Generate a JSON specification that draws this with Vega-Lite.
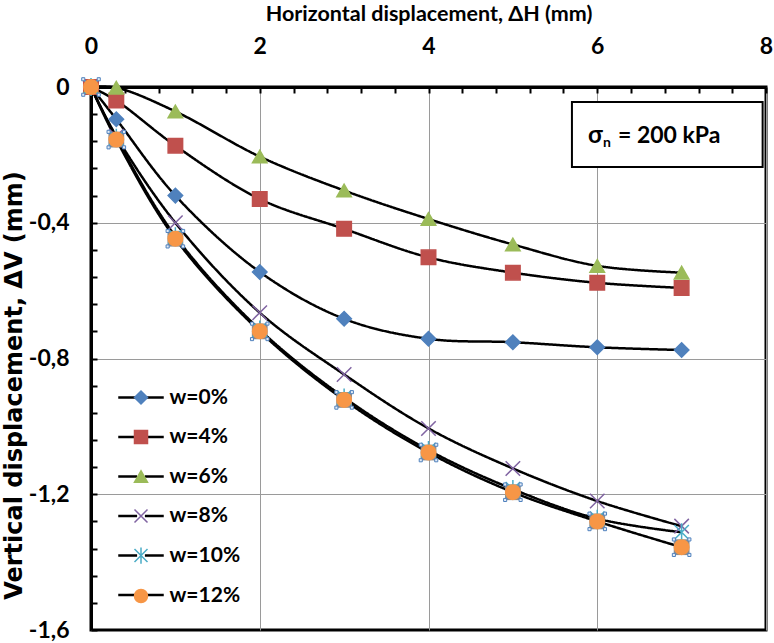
{
  "$schema": "https://vega.github.io/schema/vega-lite/v6.json",
  "width": 675,
  "height": 543,
  "autosize": {"type": "none"},
  "padding": {"left": 91, "top": 87, "right": 8, "bottom": 13},
  "background": "white",
  "config": {
    "view": {"stroke": "black", "strokeWidth": 3},
    "font": "Lato"
  },
  "datasets": {
    "curves": [
      {"series": "w=0%", "dh": 0, "dv": 0},
      {"series": "w=0%", "dh": 0.3, "dv": -0.095},
      {"series": "w=0%", "dh": 1, "dv": -0.32},
      {"series": "w=0%", "dh": 2, "dv": -0.545},
      {"series": "w=0%", "dh": 3, "dv": -0.683},
      {"series": "w=0%", "dh": 4, "dv": -0.742},
      {"series": "w=0%", "dh": 5, "dv": -0.752},
      {"series": "w=0%", "dh": 6, "dv": -0.767},
      {"series": "w=0%", "dh": 7, "dv": -0.775},
      {"series": "w=4%", "dh": 0, "dv": 0},
      {"series": "w=4%", "dh": 0.3, "dv": -0.04},
      {"series": "w=4%", "dh": 1, "dv": -0.173},
      {"series": "w=4%", "dh": 2, "dv": -0.33},
      {"series": "w=4%", "dh": 3, "dv": -0.418},
      {"series": "w=4%", "dh": 4, "dv": -0.502},
      {"series": "w=4%", "dh": 5, "dv": -0.547},
      {"series": "w=4%", "dh": 6, "dv": -0.577},
      {"series": "w=4%", "dh": 7, "dv": -0.592},
      {"series": "w=6%", "dh": 0, "dv": 0},
      {"series": "w=6%", "dh": 0.3, "dv": -0.002},
      {"series": "w=6%", "dh": 1, "dv": -0.072},
      {"series": "w=6%", "dh": 2, "dv": -0.205},
      {"series": "w=6%", "dh": 3, "dv": -0.305},
      {"series": "w=6%", "dh": 4, "dv": -0.389},
      {"series": "w=6%", "dh": 5, "dv": -0.464},
      {"series": "w=6%", "dh": 6, "dv": -0.527},
      {"series": "w=6%", "dh": 7, "dv": -0.547},
      {"series": "w=8%", "dh": 0, "dv": 0},
      {"series": "w=8%", "dh": 0.3, "dv": -0.145},
      {"series": "w=8%", "dh": 1, "dv": -0.4},
      {"series": "w=8%", "dh": 2, "dv": -0.665},
      {"series": "w=8%", "dh": 3, "dv": -0.847},
      {"series": "w=8%", "dh": 4, "dv": -1.006},
      {"series": "w=8%", "dh": 5, "dv": -1.124},
      {"series": "w=8%", "dh": 6, "dv": -1.22},
      {"series": "w=8%", "dh": 7, "dv": -1.294},
      {"series": "w=10%", "dh": 0, "dv": 0},
      {"series": "w=10%", "dh": 0.3, "dv": -0.15},
      {"series": "w=10%", "dh": 1, "dv": -0.44},
      {"series": "w=10%", "dh": 2, "dv": -0.715},
      {"series": "w=10%", "dh": 3, "dv": -0.915},
      {"series": "w=10%", "dh": 4, "dv": -1.07},
      {"series": "w=10%", "dh": 5, "dv": -1.185},
      {"series": "w=10%", "dh": 6, "dv": -1.272},
      {"series": "w=10%", "dh": 7, "dv": -1.312},
      {"series": "w=12%", "dh": 0, "dv": 0},
      {"series": "w=12%", "dh": 0.3, "dv": -0.155},
      {"series": "w=12%", "dh": 1, "dv": -0.447},
      {"series": "w=12%", "dh": 2, "dv": -0.72},
      {"series": "w=12%", "dh": 3, "dv": -0.922},
      {"series": "w=12%", "dh": 4, "dv": -1.077},
      {"series": "w=12%", "dh": 5, "dv": -1.194},
      {"series": "w=12%", "dh": 6, "dv": -1.28},
      {"series": "w=12%", "dh": 7, "dv": -1.356}
    ]
  },
  "data": {"name": "curves"},
  "encoding": {
    "x": {
      "field": "dh",
      "type": "quantitative",
      "scale": {"domain": [0, 8], "nice": false},
      "axis": {
        "orient": "top",
        "title": "Horizontal displacement, ΔH (mm)",
        "titleFont": "Lato",
        "titleFontSize": 21.5,
        "titleFontWeight": "bold",
        "titleColor": "black",
        "titleBaseline": "middle",
        "titleY": -73,
        "values": [0, 0.4, 0.8, 1.2, 1.6, 2, 2.4, 2.8, 3.2, 3.6, 4, 4.4, 4.8, 5.2, 5.6, 6, 6.4, 6.8, 7.2, 7.6, 8],
        "labelExpr": "datum.value % 2 == 0 ? toString(datum.value) : ''",
        "labelFont": "Lato",
        "labelFontSize": 23,
        "labelFontWeight": "bold",
        "labelColor": "black",
        "labelPadding": 35,
        "labelOverlap": false,
        "labelFlush": false,
        "tickSize": -6,
        "tickColor": "black",
        "tickWidth": 2,
        "domainColor": "black",
        "domainWidth": 3,
        "grid": true,
        "gridColor": "#9a9a9a",
        "gridWidth": 1,
        "gridOpacity": {"condition": {"test": "datum.value % 2 == 0", "value": 1}, "value": 0}
      }
    },
    "y": {
      "field": "dv",
      "type": "quantitative",
      "scale": {"domain": [-1.6, 0], "nice": false},
      "axis": {
        "title": "Vertical displacement, ΔV (mm)",
        "titleFont": "DejaVu Sans",
        "titleFontSize": 24,
        "titleFontWeight": "bold",
        "titleColor": "black",
        "titleAlign": "center",
        "titleBaseline": "middle",
        "titleX": -77,
        "titleY": 298,
        "values": [0, -0.08, -0.16, -0.24, -0.32, -0.4, -0.48, -0.56, -0.64, -0.72, -0.8, -0.88, -0.96, -1.04, -1.12, -1.2, -1.28, -1.36, -1.44, -1.52, -1.6],
        "labelExpr": "indexof([0, -0.4, -0.8, -1.2, -1.6], datum.value) >= 0 ? replace(toString(datum.value), '.', ',') : ''",
        "labelFont": "Lato",
        "labelFontSize": 23,
        "labelFontWeight": "bold",
        "labelColor": "black",
        "labelPadding": 28,
        "labelOverlap": false,
        "labelFlush": false,
        "tickSize": -6,
        "tickColor": "black",
        "tickWidth": 2,
        "domainColor": "black",
        "domainWidth": 3,
        "grid": true,
        "gridColor": "#9a9a9a",
        "gridWidth": 1,
        "gridOpacity": {"condition": {"test": "indexof([-0.4, -0.8, -1.2], datum.value) >= 0", "value": 1}, "value": 0}
      }
    }
  },
  "layer": [
    {
      "data": {"values": [{"part": "legend"}]},
      "mark": {"type": "rect", "fill": "white"},
      "encoding": {
        "x": {"datum": 0.1},
        "x2": {"datum": 1.97},
        "y": {"datum": -0.83},
        "y2": {"datum": -1.585}
      }
    },
    {
      "transform": [{"filter": "datum.series == 'w=0%' && datum.dh == 0"}],
      "layer": [
        {
          "mark": {"type": "rect", "fill": "white", "stroke": "black", "strokeWidth": 2, "invalid": "show"},
          "encoding": {
            "x": {"datum": 5.7},
            "x2": {"datum": 7.96},
            "y": {"datum": -0.236},
            "y2": {"datum": -0.044}
          }
        },
        {
          "mark": {"type": "text", "text": "σ", "font": "Lato", "fontSize": 24, "fontWeight": "bold", "color": "black", "align": "left", "baseline": "alphabetic", "invalid": "show"},
          "encoding": {"x": {"datum": 5.89}, "y": {"datum": -0.165}}
        },
        {
          "mark": {"type": "text", "text": "n", "font": "Lato", "fontSize": 14, "fontWeight": "bold", "color": "black", "align": "left", "baseline": "alphabetic", "dx": 15, "dy": 4, "invalid": "show"},
          "encoding": {"x": {"datum": 5.89}, "y": {"datum": -0.165}}
        },
        {
          "mark": {"type": "text", "text": "= 200 kPa", "font": "Lato", "fontSize": 23, "fontWeight": "bold", "color": "black", "align": "left", "baseline": "alphabetic", "dx": 30, "invalid": "show"},
          "encoding": {"x": {"datum": 5.89}, "y": {"datum": -0.165}}
        }
      ]
    },
    {
      "mark": {"type": "line", "interpolate": "catmull-rom", "color": "black", "strokeWidth": 2.5},
      "encoding": {
        "strokeDash": {
          "field": "series",
          "type": "nominal",
          "scale": {"range": [[1, 0]]},
          "legend": {
            "orient": "none",
            "legendX": 39.5,
            "legendY": 300,
            "direction": "vertical",
            "title": null,
            "padding": 0,
            "symbolType": "M-3.5,0L-0.6,0M0.6,0L3.5,0",
            "symbolSize": 169,
            "symbolStrokeColor": "black",
            "symbolStrokeWidth": 2.5,
            "labelExpr": "''",
            "labelFont": "Lato",
            "labelFontSize": 21,
            "labelFontWeight": "bold",
            "labelOffset": 18,
            "rowPadding": 17.5
          }
        }
      }
    },
    {
      "transform": [{"filter": "datum.series == 'w=12%'"}],
      "mark": {"type": "point", "shape": "square", "filled": true, "size": 250, "color": "#8c8c8c", "opacity": 1}
    },
    {
      "mark": {"type": "point", "filled": true, "size": 210, "strokeWidth": 1.5, "opacity": 1},
      "encoding": {
        "shape": {
          "field": "series",
          "type": "nominal",
          "scale": {
            "domain": ["w=0%", "w=4%", "w=6%", "w=8%", "w=10%", "w=12%"],
            "range": ["diamond", "square", "triangle-up", "M-1,-1L1,1M-1,1L1,-1", "M-1,-1L1,1M-1,1L1,-1M0,-1.25L0,1.25", "circle"]
          },
          "legend": {
            "orient": "none",
            "legendX": 39.5,
            "legendY": 300,
            "direction": "vertical",
            "title": null,
            "padding": 0,
            "symbolSize": 169,
            "symbolStrokeWidth": 1.5,
            "labelFont": "Lato",
            "labelFontSize": 21,
            "labelFontWeight": "bold",
            "labelColor": "black",
            "labelOffset": 18,
            "rowPadding": 17.5
          }
        },
        "fill": {
          "field": "series",
          "type": "nominal",
          "scale": {
            "domain": ["w=0%", "w=4%", "w=6%", "w=8%", "w=10%", "w=12%"],
            "range": ["#4F81BD", "#C0504D", "#9BBB59", "#8064A2", "#4BACC6", "#F79646"]
          }
        },
        "stroke": {
          "field": "series",
          "type": "nominal",
          "scale": {
            "domain": ["w=0%", "w=4%", "w=6%", "w=8%", "w=10%", "w=12%"],
            "range": ["#4F81BD", "#C0504D", "#9BBB59", "#8064A2", "#4BACC6", "#F79646"]
          }
        }
      }
    },
    {
      "transform": [{"filter": "datum.series == 'w=12%'"}],
      "mark": {
        "type": "point",
        "shape": "M-1.2,-1.2L-0.8,-1.2L-0.8,-0.8L-1.2,-0.8Z M0.8,-1.2L1.2,-1.2L1.2,-0.8L0.8,-0.8Z M-1.2,0.8L-0.8,0.8L-0.8,1.2L-1.2,1.2Z M0.8,0.8L1.2,0.8L1.2,1.2L0.8,1.2Z",
        "size": 240,
        "filled": true,
        "fill": "#e4ecf7",
        "stroke": "#4F81BD",
        "strokeWidth": 1,
        "opacity": 1
      }
    }
  ]
}
